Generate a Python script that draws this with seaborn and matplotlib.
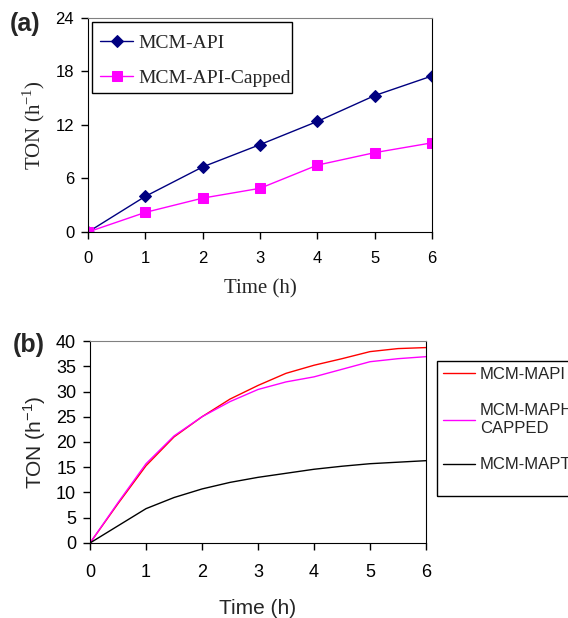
import numpy as np
import pandas as pd
import matplotlib
matplotlib.use("Agg")
import matplotlib.pyplot as plt
from matplotlib.patches import Rectangle
import seaborn as sns

# Panel (a) data
time_a = [0, 1, 2, 3, 4, 5, 6]
ton_api = [0, 4.0, 7.3, 9.8, 12.4, 15.3, 17.5]
ton_api_capped = [0, 2.2, 3.8, 4.9, 7.5, 8.9, 10.0]

# Panel (b) data
time_b = [0, 0.5, 1, 1.5, 2, 2.5, 3, 3.5, 4, 4.5, 5, 5.5, 6]
ton_mapi = [0, 7.8, 15.3, 21.0, 25.0, 28.5, 31.2, 33.6, 35.2, 36.5, 37.9, 38.5, 38.7]
ton_maph_capped = [0, 8.0, 15.7, 21.2, 25.0, 28.0, 30.4, 31.9, 32.9, 34.4, 35.9, 36.5, 36.9]
ton_mapt = [0, 3.4, 6.8, 9.0, 10.7, 12.0, 13.0, 13.8, 14.6, 15.2, 15.7, 16.0, 16.3]

sns.set_style("ticks")
plt.rcParams["font.family"] = ["Liberation Sans", "DejaVu Sans"]

fig = plt.figure(figsize=(5.68, 6.18), dpi=100)

# ---- panel (a) ----
ax1 = fig.add_axes([0.155, 0.6246, 0.6056, 0.3463])
sns.lineplot(x=time_a, y=ton_api, marker="D", markersize=6, color="#000080",
             markeredgecolor="#000080", linewidth=1, label="MCM-API", ax=ax1)
sns.lineplot(x=time_a, y=ton_api_capped, marker="s", markersize=7, color="#FF00FF",
             markeredgecolor="#FF00FF", linewidth=1, label="MCM-API-Capped", ax=ax1)
ax1.set_xlim(0, 6)
ax1.set_ylim(0, 24)
ax1.set_xticks(range(0, 7))
ax1.set_yticks([0, 6, 12, 18, 24])
ax1.tick_params(labelsize=12, length=5, width=1, colors="black")
ax1.tick_params(axis="x", pad=9)
ax1.tick_params(axis="y", pad=5)
for s in ax1.spines.values():
    s.set_visible(True)
    s.set_color("black")
ax1.spines["top"].set_color("#808080")
ax1.set_xlabel("Time (h)", family="Liberation Serif", fontsize=15, labelpad=9)
ax1.set_ylabel(r"TON (h$^{\mathregular{-1}}$)", family="Liberation Serif", fontsize=15, labelpad=6)
ax1.legend(loc="center left", bbox_to_anchor=(0.035, 0.801), frameon=False,
           borderaxespad=0, borderpad=0, handlelength=1.7, handletextpad=0.25,
           prop={"family": "Liberation Serif", "size": 14}, labelspacing=0.9)
# legend box
ax1.add_patch(Rectangle((0.012, 0.650), 0.581, 0.331, transform=ax1.transAxes,
                        fill=False, edgecolor="black", linewidth=1, zorder=5))
fig.text(0.018, 0.961, "(a)", fontsize=18, fontweight="bold", va="center")

# ---- panel (b) ----
ax2 = fig.add_axes([0.1585, 0.1214, 0.5915, 0.3268])
sns.lineplot(x=time_b, y=ton_mapi, color="#FF0000", linewidth=1, label="MCM-MAPI", ax=ax2)
sns.lineplot(x=time_b, y=ton_maph_capped, color="#FF00FF", linewidth=1,
             label="MCM-MAPH-\nCAPPED", ax=ax2)
sns.lineplot(x=time_b, y=ton_mapt, color="black", linewidth=1, label="MCM-MAPT", ax=ax2)
ax2.set_xlim(0, 6)
ax2.set_ylim(0, 40)
ax2.set_xticks(range(0, 7))
ax2.set_yticks(range(0, 41, 5))
ax2.tick_params(labelsize=13, length=5, width=1, colors="black")
ax2.tick_params(axis="x", pad=10)
ax2.tick_params(axis="y", pad=5)
for s in ax2.spines.values():
    s.set_visible(True)
    s.set_color("black")
ax2.spines["top"].set_color("#808080")
ax2.set_xlabel("Time (h)", fontsize=15, labelpad=13)
ax2.set_ylabel(r"TON (h$^{\mathregular{-1}}$)", fontsize=15, labelpad=6)
ax2.legend(loc="center left", bbox_to_anchor=(0.780, 0.321), bbox_transform=fig.transFigure,
           frameon=False, borderaxespad=0, borderpad=0, handlelength=1.9,
           handletextpad=0.3, prop={"size": 12}, labelspacing=1.3)
fig.patches.append(Rectangle((0.769, 0.197), 0.3, 0.219, transform=fig.transFigure,
                             fill=False, edgecolor="black", linewidth=1))
fig.text(0.022, 0.442, "(b)", fontsize=18, fontweight="bold", va="center")

fig.savefig("out.png", dpi=100)
